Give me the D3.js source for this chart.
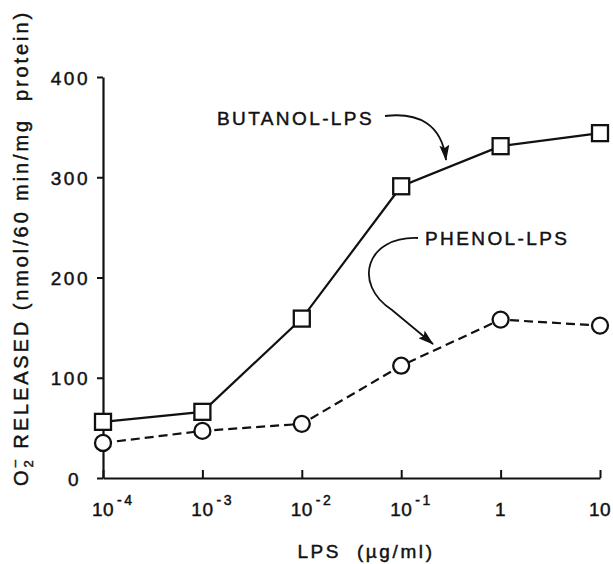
<!DOCTYPE html>
<html>
<head>
<meta charset="utf-8">
<script src="https://cdn.jsdelivr.net/npm/d3@7"></script>
<style>
  html, body { margin: 0; padding: 0; background: #fff; }
  svg { display: block; }
  text { font-family: "Liberation Sans", Arial, Helvetica, sans-serif; fill: #111; stroke: #111; stroke-width: 0.45px; }
</style>
</head>
<body>
<svg id="chart" width="613" height="564"></svg>
<script>
// ---- data ----
const concentrations = [1e-4, 1e-3, 1e-2, 1e-1, 1, 10];
const butanolLPS = [56, 66, 159, 291, 331, 344];
const phenolLPS = [35, 47, 54, 112, 158, 152];
const yTicks = [0, 100, 200, 300, 400];
const xTicks = [1e-4, 1e-3, 1e-2, 1e-1, 1, 10];
const xTickBase = ["10", "10", "10", "10", "1", "10"];
const xTickExp = ["-4", "-3", "-2", "-1", "", ""];
const seriesNames = ["BUTANOL-LPS", "PHENOL-LPS"];

const svg = d3.select("#chart");
const ink = "#111";

const x = d3.scaleLog().domain([1e-4, 10]).range([103, 600]);
const y = d3.scaleLinear().domain([0, 400]).range([478, 77]);

// ---- axes ----
const yAxis = d3.axisLeft(y).tickValues(yTicks).tickSizeInner(6).tickSizeOuter(0).tickPadding(7);
const gy = svg.append("g").attr("transform", `translate(${x(1e-4)},0)`).call(yAxis);
gy.select(".domain").attr("stroke", ink).attr("stroke-width", 2.2);
gy.selectAll(".tick line").attr("stroke", ink).attr("stroke-width", 2);
gy.selectAll(".tick text")
  .attr("font-size", 19).attr("letter-spacing", 2.5).attr("fill", ink)
  .attr("font-family", "Liberation Sans, Arial, sans-serif")
  .attr("dx", d => d === 0 ? -9 : 0)
  .attr("dy", "0.38em");

const xAxis = d3.axisBottom(x).tickValues(xTicks).tickSizeInner(-8).tickSizeOuter(0).tickFormat(() => "");
const gx = svg.append("g").attr("transform", `translate(0,${y(0)})`).call(xAxis);
gx.select(".domain").attr("stroke", ink).attr("stroke-width", 2.2);
gx.selectAll(".tick line").attr("stroke", ink).attr("stroke-width", 2);

// x tick labels: base "10" centred on tick, exponent as superscript
const xl = svg.append("g");
xTicks.forEach((v, i) => {
  const t = xl.append("text")
    .attr("x", x(v)).attr("y", 516)
    .attr("text-anchor", "middle")
    .attr("font-size", 19).attr("letter-spacing", 0.5)
    .text(xTickBase[i]);
  if (xTickExp[i]) {
    const w = t.node().getComputedTextLength();
    xl.append("text")
      .attr("x", x(v) + w / 2 + 3).attr("y", 505)
      .attr("font-size", 14).attr("letter-spacing", 2.5)
      .text(xTickExp[i]);
  }
});

// axis titles
svg.append("text")
  .attr("x", 366).attr("y", 558)
  .attr("text-anchor", "middle")
  .attr("font-size", 19).attr("letter-spacing", 2.6)
  .attr("xml:space", "preserve")
  .text("LPS  (\u00B5g/ml)");

const yt = svg.append("text")
  .attr("transform", "translate(28,248) rotate(-90)")
  .attr("text-anchor", "middle")
  .attr("font-size", 20).attr("letter-spacing", 2.9)
  .attr("xml:space", "preserve");
yt.append("tspan").text("O");
yt.append("tspan").attr("font-size", 13).attr("dy", 5).attr("letter-spacing", 0).text("2");
yt.append("tspan").attr("font-size", 13).attr("dy", -14).attr("dx", -7).text("\u2013");
yt.append("tspan").attr("dy", 9).text(" RELEASED (nmol/60 min/mg  protein)");

// ---- series lines ----
const line = d3.line().x((d, i) => x(concentrations[i])).y(d => y(d));
svg.append("path").datum(butanolLPS)
  .attr("d", line).attr("fill", "none").attr("stroke", ink).attr("stroke-width", 2.2);
svg.append("path").datum(phenolLPS)
  .attr("d", line).attr("fill", "none").attr("stroke", ink).attr("stroke-width", 2.2)
  .attr("stroke-dasharray", "9,5");

// ---- markers ----
const sq = 16;
svg.append("g").selectAll("rect").data(butanolLPS).join("rect")
  .attr("x", (d, i) => x(concentrations[i]) - sq / 2)
  .attr("y", d => y(d) - sq / 2)
  .attr("width", sq).attr("height", sq)
  .attr("fill", "#fff").attr("stroke", ink).attr("stroke-width", 2.3);
svg.append("g").selectAll("circle").data(phenolLPS).join("circle")
  .attr("cx", (d, i) => x(concentrations[i]))
  .attr("cy", d => y(d))
  .attr("r", 8)
  .attr("fill", "#fff").attr("stroke", ink).attr("stroke-width", 2.3);

// ---- annotations ----
const defs = svg.append("defs");
defs.append("marker").attr("id", "arrow")
  .attr("markerUnits", "userSpaceOnUse")
  .attr("viewBox", "0 0 16 10").attr("refX", 15).attr("refY", 5)
  .attr("markerWidth", 16).attr("markerHeight", 10)
  .attr("orient", "auto")
  .append("path").attr("d", "M0,0 L16,5 L0,10 L3,5 Z").attr("fill", ink);

svg.append("text").attr("x", 217).attr("y", 125)
  .attr("font-size", 19).attr("letter-spacing", 2.4).text(seriesNames[0]);
svg.append("path")
  .attr("d", "M385,116 C418,112 442,124 446,160")
  .attr("fill", "none").attr("stroke", ink).attr("stroke-width", 1.8)
  .attr("marker-end", "url(#arrow)");

svg.append("text").attr("x", 425).attr("y", 245)
  .attr("font-size", 19).attr("letter-spacing", 2.4).text(seriesNames[1]);
svg.append("path")
  .attr("d", "M418,238 C366,236 352,284 392,310 L433,344")
  .attr("fill", "none").attr("stroke", ink).attr("stroke-width", 1.8)
  .attr("marker-end", "url(#arrow)");
</script>
</body>
</html>
